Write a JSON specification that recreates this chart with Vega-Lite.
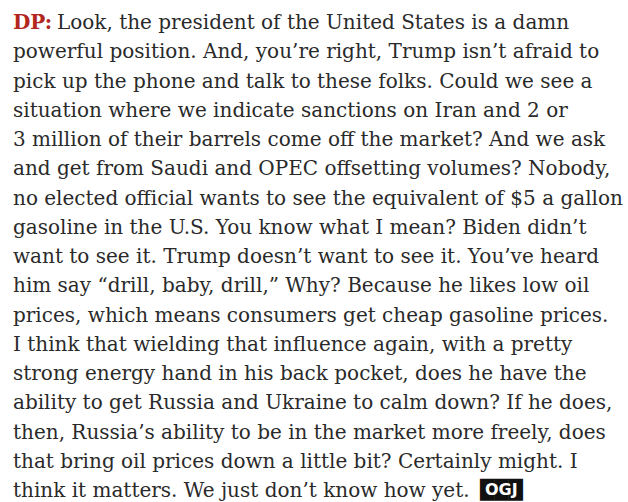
{
  "$schema": "https://vega.github.io/schema/vega-lite/v6.json",
  "width": 615,
  "height": 468,
  "autosize": {"type": "none"},
  "padding": {"left": 13, "top": 29, "right": 0, "bottom": 5},
  "background": "white",
  "config": {"view": {"stroke": null}},
  "data": {
    "values": [
      {"line": 1, "part": "speaker", "text": "DP:"},
      {"line": 1, "part": "first", "text": "Look, the president of the United States is a damn"},
      {"line": 2, "part": "body", "text": "powerful position. And, you’re right, Trump isn’t afraid to"},
      {"line": 3, "part": "body", "text": "pick up the phone and talk to these folks. Could we see a"},
      {"line": 4, "part": "body", "text": "situation where we indicate sanctions on Iran and 2 or"},
      {"line": 5, "part": "body", "text": "3 million of their barrels come off the market? And we ask"},
      {"line": 6, "part": "body", "text": "and get from Saudi and OPEC offsetting volumes? Nobody,"},
      {"line": 7, "part": "body", "text": "no elected official wants to see the equivalent of $5 a gallon"},
      {"line": 8, "part": "body", "text": "gasoline in the U.S. You know what I mean? Biden didn’t"},
      {"line": 9, "part": "body", "text": "want to see it. Trump doesn’t want to see it. You’ve heard"},
      {"line": 10, "part": "body", "text": "him say “drill, baby, drill,” Why? Because he likes low oil"},
      {"line": 11, "part": "body", "text": "prices, which means consumers get cheap gasoline prices."},
      {"line": 12, "part": "body", "text": "I think that wielding that influence again, with a pretty"},
      {"line": 13, "part": "body", "text": "strong energy hand in his back pocket, does he have the"},
      {"line": 14, "part": "body", "text": "ability to get Russia and Ukraine to calm down? If he does,"},
      {"line": 15, "part": "body", "text": "then, Russia’s ability to be in the market more freely, does"},
      {"line": 16, "part": "body", "text": "that bring oil prices down a little bit? Certainly might. I"},
      {"line": 17, "part": "body", "text": "think it matters. We just don’t know how yet."},
      {"line": 17, "part": "logo", "text": "OGJ"}
    ]
  },
  "encoding": {
    "x": {"datum": 0, "type": "quantitative", "scale": {"domain": [0, 1]}, "axis": null},
    "y": {"field": "line", "type": "quantitative", "scale": {"domain": [1, 17], "reverse": true, "nice": false, "zero": false}, "axis": null},
    "text": {"field": "text"}
  },
  "layer": [
    {
      "transform": [{"filter": "datum.part === 'speaker'"}],
      "mark": {"type": "text", "align": "left", "baseline": "alphabetic", "font": "DejaVu Serif", "fontSize": 20, "fontWeight": "bold", "color": "#b3261e"}
    },
    {
      "transform": [{"filter": "datum.part === 'first'"}],
      "mark": {"type": "text", "align": "left", "baseline": "alphabetic", "dx": 44, "font": "DejaVu Serif", "fontSize": 20, "color": "#2a2a2a"}
    },
    {
      "transform": [{"filter": "datum.part === 'body'"}],
      "mark": {"type": "text", "align": "left", "baseline": "alphabetic", "font": "DejaVu Serif", "fontSize": 20, "color": "#2a2a2a"}
    },
    {
      "transform": [{"filter": "datum.part === 'logo'"}],
      "mark": {"type": "text", "align": "left", "baseline": "alphabetic", "dx": 467, "dy": -1, "font": "DejaVu Sans", "fontSize": 18.5, "color": "#111111"},
      "encoding": {"text": {"value": "███"}}
    },
    {
      "transform": [{"filter": "datum.part === 'logo'"}],
      "mark": {"type": "text", "align": "left", "baseline": "alphabetic", "dx": 472, "dy": -2, "font": "DejaVu Sans", "fontSize": 16, "fontWeight": "bold", "color": "white"}
    }
  ]
}
